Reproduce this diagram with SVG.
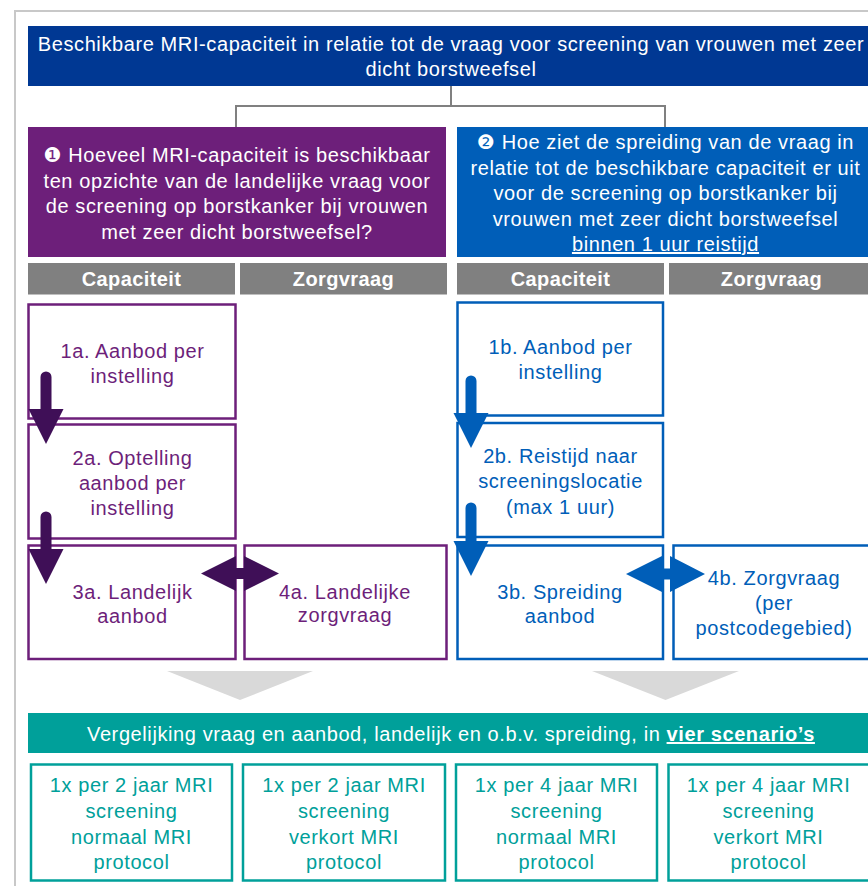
<svg xmlns="http://www.w3.org/2000/svg" width="868" height="886" viewBox="0 0 868 886">
<style>
text{font-family:"Liberation Sans",Arial,"DejaVu Sans",sans-serif;font-size:20px;letter-spacing:0.6px;text-anchor:middle}
.w{fill:#ffffff}
.hb{font-weight:bold;fill:#ffffff;letter-spacing:0.4px}
.pt{fill:#6d1f7a}
.bt{fill:#005eb8}
.tt{fill:#00a09a}
.pbox{fill:#ffffff;stroke:#6d1f7a;stroke-width:2.5}
.bbox{fill:#ffffff;stroke:#005eb8;stroke-width:2.5}
.tbox{fill:#ffffff;stroke:#00a09a;stroke-width:2.5}
.gh{fill:#808080}
.conn{fill:none;stroke:#808080;stroke-width:2}
.pa{fill:#3f0f57}
.ba{fill:#005eb8}
.chev{fill:#d9d9d9}
</style>
<rect x="0" y="0" width="868" height="886" fill="#ffffff"/>
<rect x="15" y="11" width="900" height="900" fill="none" stroke="#c8c8c8" stroke-width="2"/>

<g id="header">
<rect x="28" y="26" width="846" height="60" fill="#003893"/>
<text class="w" x="451" y="51">Beschikbare MRI-capaciteit in relatie tot de vraag voor screening van vrouwen met zeer</text>
<text class="w" x="451" y="76">dicht borstweefsel</text>
</g>

<g id="q1">
<rect x="28" y="127" width="418" height="130" fill="#6d1f7a"/>
<text class="w" x="237" y="162">❶ Hoeveel MRI-capaciteit is beschikbaar</text>
<text class="w" x="237" y="187.5">ten opzichte van de landelijke vraag voor</text>
<text class="w" x="237" y="213">de screening op borstkanker bij vrouwen</text>
<text class="w" x="237" y="238.5">met zeer dicht borstweefsel?</text>
</g>

<g id="q2">
<rect x="457" y="127" width="417" height="130" fill="#005eb8"/>
<text class="w" x="665.5" y="149">❷ Hoe ziet de spreiding van de vraag in</text>
<text class="w" x="665.5" y="174.5">relatie tot de beschikbare capaciteit er uit</text>
<text class="w" x="665.5" y="200">voor de screening op borstkanker bij</text>
<text class="w" x="665.5" y="225.5">vrouwen met zeer dicht borstweefsel</text>
<text class="w" x="665.5" y="251" text-decoration="underline">binnen 1 uur reistijd</text>
</g>

<g id="col-headers">
<rect class="gh" x="28" y="263" width="207" height="31.5"/>
<text class="hb" x="131.5" y="286">Capaciteit</text>
<rect class="gh" x="240" y="263" width="207" height="31.5"/>
<text class="hb" x="343.5" y="286">Zorgvraag</text>
<rect class="gh" x="457" y="263" width="207" height="31.5"/>
<text class="hb" x="560.5" y="286">Capaciteit</text>
<rect class="gh" x="669" y="263" width="205" height="31.5"/>
<text class="hb" x="771.5" y="286">Zorgvraag</text>
</g>

<g id="n1a">
<rect class="pbox" x="28.5" y="304.5" width="207" height="114"/>
<text class="pt" x="132.5" y="358">1a. Aanbod per</text>
<text class="pt" x="132.5" y="383">instelling</text>
</g>
<g id="n2a">
<rect class="pbox" x="28.5" y="424.5" width="207" height="114"/>
<text class="pt" x="132.5" y="465">2a. Optelling</text>
<text class="pt" x="132.5" y="490">aanbod per</text>
<text class="pt" x="132.5" y="515">instelling</text>
</g>
<g id="n3a">
<rect class="pbox" x="28.5" y="545.5" width="207" height="113.5"/>
<text class="pt" x="132.5" y="598.5">3a. Landelijk</text>
<text class="pt" x="132.5" y="623">aanbod</text>
</g>
<g id="n4a">
<rect class="pbox" x="244.5" y="545.5" width="202" height="113.5"/>
<text class="pt" x="345" y="598.5">4a. Landelijke</text>
<text class="pt" x="345" y="622">zorgvraag</text>
</g>

<g id="n1b">
<rect class="bbox" x="457.5" y="302.5" width="205.5" height="113"/>
<text class="bt" x="560.5" y="353.5">1b. Aanbod per</text>
<text class="bt" x="560.5" y="379">instelling</text>
</g>
<g id="n2b">
<rect class="bbox" x="457.5" y="423" width="205.5" height="114"/>
<text class="bt" x="560.5" y="463">2b. Reistijd naar</text>
<text class="bt" x="560.5" y="488">screeningslocatie</text>
<text class="bt" x="560.5" y="513.5">(max 1 uur)</text>
</g>
<g id="n3b">
<rect class="bbox" x="457.5" y="545.5" width="205.5" height="113.5"/>
<text class="bt" x="560" y="598.5">3b. Spreiding</text>
<text class="bt" x="560" y="623">aanbod</text>
</g>
<g id="n4b">
<rect class="bbox" x="673.5" y="545.5" width="200" height="113.5"/>
<text class="bt" x="774" y="585">4b. Zorgvraag</text>
<text class="bt" x="774" y="610">(per</text>
<text class="bt" x="774" y="635">postcodegebied)</text>
</g>

<g id="chevrons">
<polygon class="chev" points="167,671 313,671 240,700"/>
<polygon class="chev" points="592,671 739,671 665.5,700"/>
</g>

<g id="comparison">
<rect x="28" y="713" width="846" height="40" fill="#00a09a"/>
<text class="w" x="451" y="741">Vergelijking vraag en aanbod, landelijk en o.b.v. spreiding, in <tspan font-weight="bold" text-decoration="underline">vier scenario’s</tspan></text>
</g>

<g id="s1">
<rect class="tbox" x="31" y="764.5" width="201" height="116"/>
<text class="tt" x="131.5" y="792">1x per 2 jaar MRI</text>
<text class="tt" x="131.5" y="817.5">screening</text>
<text class="tt" x="131.5" y="843.5">normaal MRI</text>
<text class="tt" x="131.5" y="868.5">protocol</text>
</g>
<g id="s2">
<rect class="tbox" x="243" y="764.5" width="202" height="116"/>
<text class="tt" x="344" y="792">1x per 2 jaar MRI</text>
<text class="tt" x="344" y="817.5">screening</text>
<text class="tt" x="344" y="843.5">verkort MRI</text>
<text class="tt" x="344" y="868.5">protocol</text>
</g>
<g id="s3">
<rect class="tbox" x="456" y="764.5" width="201" height="116"/>
<text class="tt" x="556.5" y="792">1x per 4 jaar MRI</text>
<text class="tt" x="556.5" y="817.5">screening</text>
<text class="tt" x="556.5" y="843.5">normaal MRI</text>
<text class="tt" x="556.5" y="868.5">protocol</text>
</g>
<g id="s4">
<rect class="tbox" x="668.5" y="764.5" width="201" height="116"/>
<text class="tt" x="768.5" y="792">1x per 4 jaar MRI</text>
<text class="tt" x="768.5" y="817.5">screening</text>
<text class="tt" x="768.5" y="843.5">verkort MRI</text>
<text class="tt" x="768.5" y="868.5">protocol</text>
</g>

<g id="connectors">
<path class="conn" d="M451 86 V106 M236 127 V106 H665 V127"/>
<path class="pa" d="M40.5 409 V377 A5.5 5.5 0 0 1 51.5 377 V409 H63.5 L46 444 L28.5 409 Z"/>
<path class="pa" d="M40.5 549 V517 A5.5 5.5 0 0 1 51.5 517 V549 H63.5 L46 584 L28.5 549 Z"/>
<path class="pa" d="M201 573.5 L236 556 V568 H244 V556 L279 573.5 L244 591 V579 H236 V591 Z"/>
<path class="ba" d="M465.5 413 V381 A5.5 5.5 0 0 1 476.5 381 V413 H488.5 L471 448 L453.5 413 Z"/>
<path class="ba" d="M465.5 541 V508 A5.5 5.5 0 0 1 476.5 508 V541 H488.5 L471 576 L453.5 541 Z"/>
<path class="ba" d="M626 574 L662 556 V568.5 H670 V556 L705 574 L670 592 V579.5 H662 V592 Z"/>
</g>
</svg>
